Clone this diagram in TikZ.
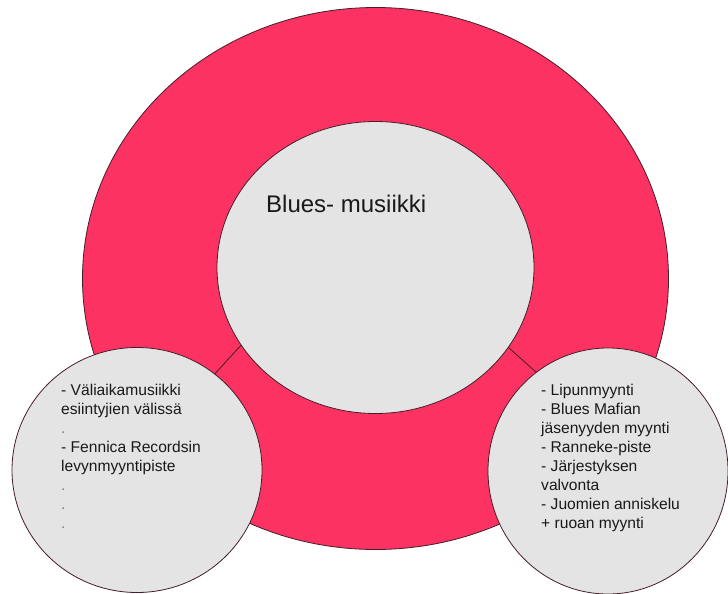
\documentclass[tikz,border=0pt]{standalone}
\usepackage{fontspec}
\setmainfont{Liberation Sans}
\usetikzlibrary{shapes.geometric}
\definecolor{ringred}{RGB}{252,50,98}
\definecolor{discgray}{RGB}{228,228,228}
\definecolor{edgecol}{RGB}{70,30,40}
\definecolor{txt}{RGB}{25,25,25}
\tikzset{
  disc/.style={ellipse, draw=edgecol, line width=0.8pt, inner sep=0pt, outer sep=0pt},
  link/.style={draw=edgecol, line width=0.8pt},
  body/.style={anchor=base west, align=left, inner sep=0pt, text=txt,
    font=\fontsize{15.6pt}{19.05pt}\selectfont},
}
\begin{document}
\begin{tikzpicture}[x=1pt,y=-1pt]
\useasboundingbox[fill=white] (0,0) rectangle (728,594);
\node[disc, fill=ringred, minimum width=586pt, minimum height=542pt] (big) at (375.5,278.5) {};
\node[disc, fill=discgray, minimum width=317pt, minimum height=292pt] (inner) at (375.5,267.5) {};
\node[anchor=base west, inner sep=0pt, text=txt, font=\fontsize{24pt}{28pt}\selectfont] (title) at (266,212) {Blues- musiikki};
\node[disc, fill=discgray, minimum width=250pt, minimum height=245pt] (leftdisc) at (137,470) {};
\node[disc, fill=discgray, minimum width=240pt, minimum height=246pt] (rightdisc) at (608,471) {};
\draw[link] (inner.210.5) -- (leftdisc.51.7);
\draw[link] (inner.329.5) -- (rightdisc.126.1);
\node[body] (lefttext) at (61,528.4) {- Väliaikamusiikki\\esiintyjien välissä\\\textcolor{gray}{.}\\- Fennica Recordsin\\levynmyyntipiste\\\textcolor{gray}{.}\\\textcolor{gray}{.}\\\textcolor{gray}{.}};
\node[body] (righttext) at (541,528.4) {- Lipunmyynti\\- Blues Mafian\\jäsenyyden myynti\\- Ranneke-piste\\- Järjestyksen\\valvonta\\- Juomien anniskelu\\+ ruoan myynti};
\end{tikzpicture}
\end{document}
